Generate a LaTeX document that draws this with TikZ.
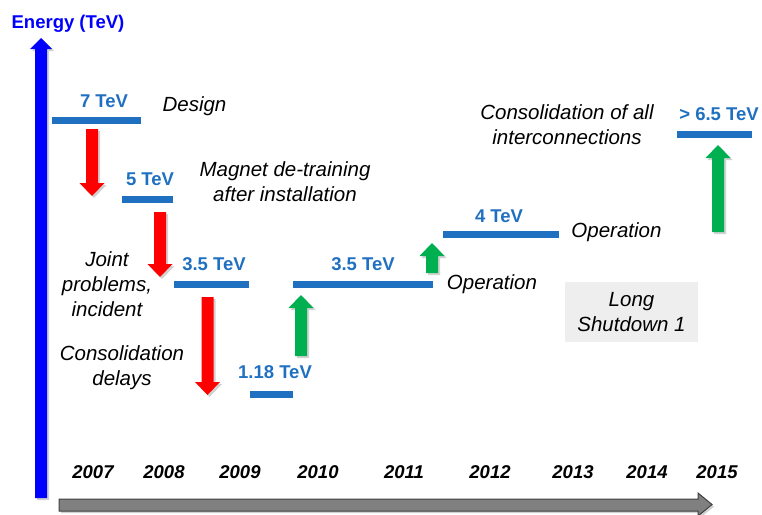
\documentclass[tikz,border=0pt]{standalone}
\usepackage{fontspec}
\setmainfont{Liberation Sans}
\definecolor{barblue}{HTML}{1F70C1}
\definecolor{lblblue}{HTML}{1F70C1}
\definecolor{axblue}{HTML}{0000FF}
\definecolor{arrred}{HTML}{FF0000}
\definecolor{arrgreen}{HTML}{00B050}
\definecolor{tlgray}{HTML}{808080}
\definecolor{tldark}{HTML}{404040}
\definecolor{boxgray}{HTML}{EEEEEE}
% block arrow: #1 x, #2 tail y, #3 tip y, #4 colour
\newcommand\blkarrow[4]{%
  \pgfmathsetmacro\hbase{#3+13*sign(#2-#3)}%
  \fill[#4, shade] ({#1-6},#2) -- ({#1+6},#2) -- ({#1+6},\hbase) -- ({#1+12.5},\hbase)
    -- (#1,#3) -- ({#1-12.5},\hbase) -- ({#1-6},\hbase) -- cycle;}
\begin{document}
\begin{tikzpicture}[x=1pt,y=-1pt,
  shade/.style={preaction={fill=black,opacity=.18,transform canvas={shift={(2pt,-2pt)}}}},
  bar/.style={draw=barblue,line width=7pt,shade},
  lbl/.style={text=lblblue,font=\fontsize{18.5}{22}\selectfont\bfseries,inner sep=0pt},
  note/.style={font=\fontsize{20.5}{25}\selectfont\itshape,align=center,inner sep=0pt},
  yr/.style={font=\fontsize{18.5}{22}\selectfont\bfseries\itshape,inner sep=0pt}]
\useasboundingbox (0,0) rectangle (762,514);
% axes
\fill[axblue, shade] (35,498) -- (47,498) -- (47,49) -- (52,49) -- (41,38) -- (30,49) -- (35,49) -- cycle;
\node[text=axblue,font=\fontsize{18.5}{22}\selectfont\bfseries,inner sep=0pt] (title) at (68,24) {Energy (TeV)};
\filldraw[fill=tlgray,draw=tldark,line width=1pt,shade] (59,499) -- (698,499) -- (698,493) -- (712,504.5) -- (698,516) -- (698,511) -- (59,511) -- cycle;
% years
\node[yr] (y07) at (93,472) {2007};
\node[yr] (y08) at (164,472) {2008};
\node[yr] (y09) at (240,472) {2009};
\node[yr] (y10) at (318,472) {2010};
\node[yr] (y11) at (404,472) {2011};
\node[yr] (y12) at (490,472) {2012};
\node[yr] (y13) at (573,472) {2013};
\node[yr] (y14) at (647,472) {2014};
\node[yr] (y15) at (717,472) {2015};
% bars
\draw[bar] (52,120) -- (141,120);
\draw[bar] (122,199) -- (173,199);
\draw[bar] (174,284) -- (249,284);
\draw[bar] (250,394) -- (293,394);
\draw[bar] (293,284) -- (433,284);
\draw[bar] (443,234) -- (559,234);
\draw[bar] (677,134) -- (752,134);
% energy labels
\node[lbl] (e7) at (104,101) {7 TeV};
\node[lbl] (e5) at (150,179) {5 TeV};
\node[lbl] (e35a) at (214,264) {3.5 TeV};
\node[lbl] (e118) at (275,372) {1.18 TeV};
\node[lbl] (e35b) at (363,264) {3.5 TeV};
\node[lbl] (e4) at (499,216) {4 TeV};
\node[lbl] (e65) at (719,114) {> 6.5 TeV};
% arrows
\blkarrow{92}{129}{196}{arrred}
\blkarrow{160}{212}{277}{arrred}
\blkarrow{207.5}{297}{395}{arrred}
\blkarrow{301}{356}{295}{arrgreen}
\blkarrow{432}{273}{243}{arrgreen}
\blkarrow{718}{232}{145}{arrgreen}
% notes
\node[note] (design) at (194.5,106) {Design};
\node[note] (magnet) at (285,182) {Magnet de-training\\after installation};
\node[note] (joint) at (107,284) {Joint\\problems,\\incident};
\node[note] (consdel) at (122,367.5) {Consolidation\\delays};
\node[note] (op1) at (492,284) {Operation};
\node[note] (op2) at (616.5,232) {Operation};
\node[note] (consall) at (567,125) {Consolidation of all\\interconnections};
\node[note,fill=boxgray,minimum width=133pt,minimum height=60pt] (ls1) at (631.5,312) {Long\\Shutdown 1};
\end{tikzpicture}
\end{document}
